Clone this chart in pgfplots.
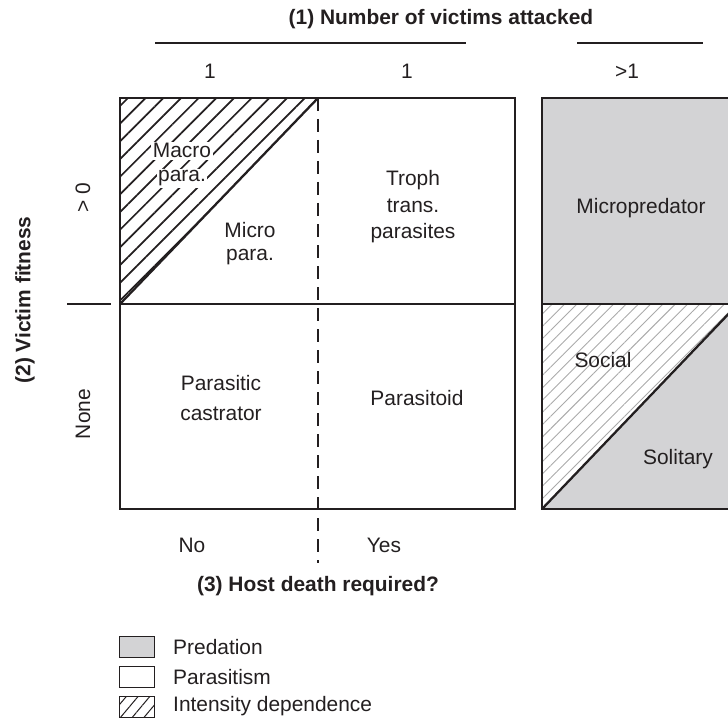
\documentclass[border=0pt]{standalone}
\usepackage{pgfplots}
\pgfplotsset{compat=1.18}
\usetikzlibrary{patterns.meta}
\usepackage{fontspec}
\setmainfont{Liberation Sans}
\definecolor{predgray}{RGB}{211,211,213}
\definecolor{txt}{RGB}{35,31,32}
\definecolor{hatchgray}{RGB}{170,170,170}
\tikzset{
  lab/.style={font=\fontsize{21}{24}\selectfont,text=txt,inner sep=0pt,anchor=base},
  blab/.style={font=\fontsize{21}{24}\selectfont\bfseries,text=txt,inner sep=0pt,anchor=base}}
\begin{document}
\begin{tikzpicture}
\begin{axis}[width=728bp,height=721bp,scale only axis,
  xmin=0,xmax=728,ymin=0,ymax=721,y dir=reverse,hide axis,clip=true]
% invisible frame
\addplot[draw=none,forget plot] coordinates {(0,0) (728,721)};
% left box hatched triangle (intensity dependence)
\addplot[draw=none,pattern={Lines[angle=45,distance=12.5bp,line width=1.7bp]},pattern color=txt]
  coordinates {(120,98) (318,98) (120,304)} -- cycle;
% right box: micropredator (gray)
\addplot[draw=none,fill=predgray] coordinates {(542,98) (750,98) (750,304) (542,304)} -- cycle;
% right lower: solitary (gray) and social (hatched)
\addplot[draw=none,fill=predgray] coordinates {(542,509) (738,304) (750,304) (750,509)} -- cycle;
\addplot[draw=none,pattern={Lines[angle=45,distance=8.7bp,line width=0.9bp]},pattern color=hatchgray]
  coordinates {(542,304) (738,304) (542,509)} -- cycle;
% left box outlines
\addplot[txt,line width=2.8bp] coordinates {(120,98) (515,98) (515,509) (120,509)} -- cycle;
\addplot[txt,line width=2.3bp] coordinates {(120,304) (515,304)};
\addplot[txt,line width=2.3bp] coordinates {(120,304) (318,98)};
\addplot[txt,line width=2.3bp,dash pattern=on 13bp off 8bp] coordinates {(318,98) (318,563)};
% right box outlines
\addplot[txt,line width=2.8bp] coordinates {(760,98) (542,98) (542,509) (760,509)};
\addplot[txt,line width=2.3bp] coordinates {(542,304) (750,304)};
\addplot[txt,line width=2.3bp] coordinates {(542,509) (738,304)};
% header lines and tick
\addplot[txt,line width=1.4bp] coordinates {(155,43) (466,43)};
\addplot[txt,line width=1.4bp] coordinates {(577,43) (703,43)};
\addplot[txt,line width=1.4bp] coordinates {(67,304) (111,304)};
% legend swatches
\addplot[txt,line width=1bp,fill=predgray] coordinates {(119,636) (154,636) (154,657) (119,657)} -- cycle;
\addplot[txt,line width=1bp,fill=white] coordinates {(119,666) (154,666) (154,687) (119,687)} -- cycle;
\addplot[txt,line width=1bp,pattern={Lines[angle=50,distance=9bp,line width=1bp]},pattern color=txt] coordinates {(119,696) (154,696) (154,717) (119,717)} -- cycle;
% texts
\node[blab] at (axis cs:441,25) {(1) Number of victims attacked};
\node[lab] at (axis cs:210,79) {1};
\node[lab] at (axis cs:407,79) {1};
\node[lab] at (axis cs:627,79) {>1};
\node[blab,rotate=90,anchor=center] at (axis cs:25,300) {(2) Victim fitness};
\node[lab,rotate=90,anchor=center] at (axis cs:83,198) {> 0};
\node[lab,rotate=90,anchor=center] at (axis cs:83,414) {None};
\node[lab,fill=white,inner sep=1.5bp] at (axis cs:182,158) {Macro};
\node[lab,fill=white,inner sep=1.5bp] at (axis cs:182,182) {para.};
\node[lab] at (axis cs:250,237) {Micro};
\node[lab] at (axis cs:250,260) {para.};
\node[lab] at (axis cs:413,186) {Troph};
\node[lab] at (axis cs:413,212) {trans.};
\node[lab] at (axis cs:413,238) {parasites};
\node[lab] at (axis cs:641,213) {Micropredator};
\node[lab] at (axis cs:221,390) {Parasitic};
\node[lab] at (axis cs:221,420) {castrator};
\node[lab] at (axis cs:417,405) {Parasitoid};
\node[lab] at (axis cs:603,367) {Social};
\node[lab] at (axis cs:678,464) {Solitary};
\node[lab] at (axis cs:192,552) {No};
\node[lab] at (axis cs:384,552) {Yes};
\node[blab] at (axis cs:318,591) {(3) Host death required?};
\node[lab,anchor=west] at (axis cs:173,647) {Predation};
\node[lab,anchor=west] at (axis cs:173,677) {Parasitism};
\node[lab,anchor=west] at (axis cs:173,706) {Intensity dependence};
\end{axis}
\end{tikzpicture}
\end{document}
